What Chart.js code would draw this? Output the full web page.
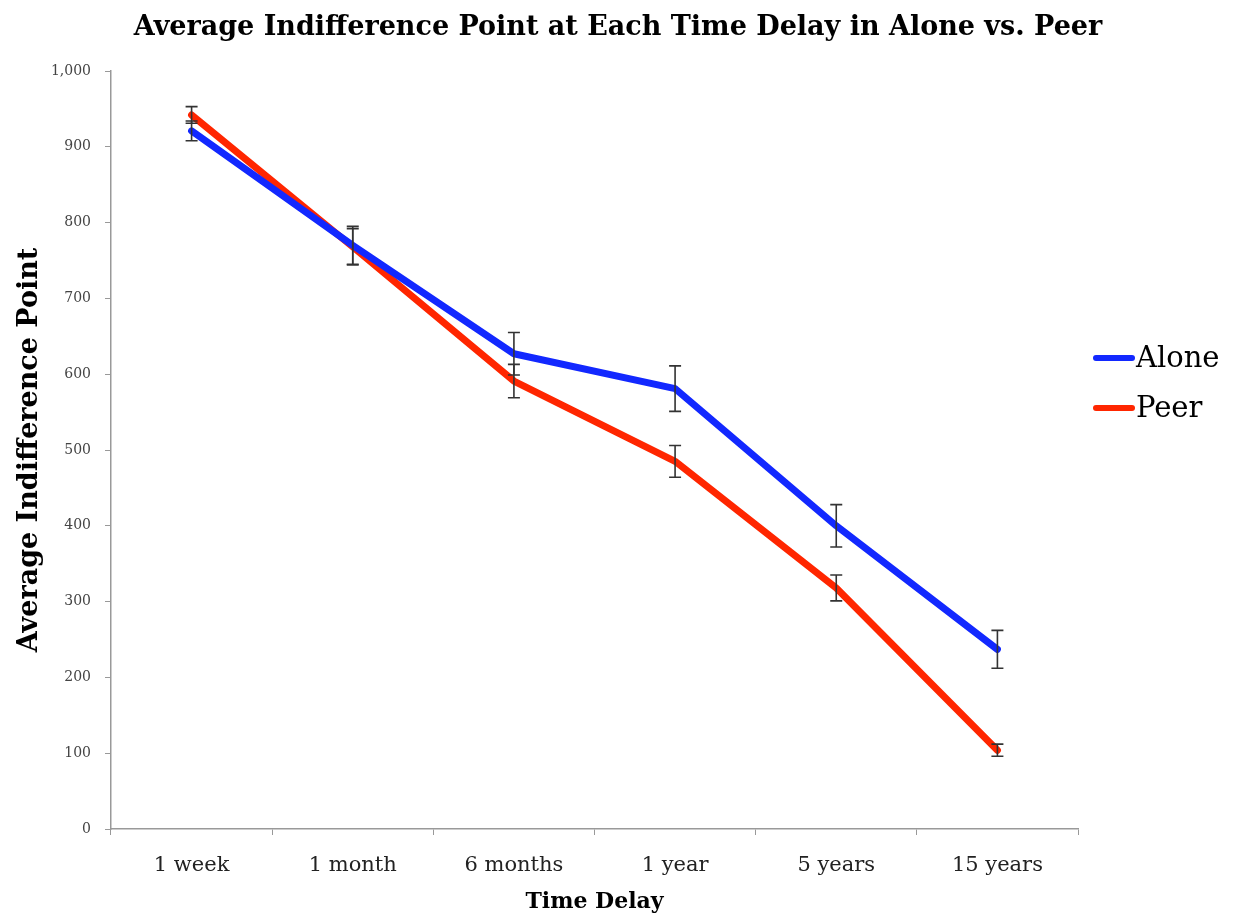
<!DOCTYPE html>
<html><head><meta charset="utf-8">
<script src="https://cdn.jsdelivr.net/npm/chart.js@4"></script>
<style>html,body{margin:0;padding:0;background:#fff}#wrap{width:1236px;height:918px}</style>
</head><body><div id="wrap"><canvas id="c" width="1236" height="918"></canvas></div>
<script>
const categories = ["1 week", "1 month", "6 months", "1 year", "5 years", "15 years"];
const aloneValues = [921, 770, 627, 581, 400, 237];
const aloneErrors = [13, 25, 28, 30, 28, 25];
const peerValues = [942, 768, 591, 485, 318, 104];
const peerErrors = [11, 24, 22, 21, 17, 8];
const yTicks = [0, 100, 200, 300, 400, 500, 600, 700, 800, 900, 1000];

const SERIF = '"DejaVu Serif", "Liberation Serif", serif';

const errorBarPlugin = {
  id: 'errorBars',
  afterDatasetsDraw(chart) {
    const ctx = chart.ctx, x = chart.scales.x, y = chart.scales.y;
    ctx.save();
    ctx.strokeStyle = '#333';
    ctx.lineWidth = 1.6;
    chart.data.datasets.forEach(ds => {
      ds.values.forEach((v, i) => {
        const e = ds.errors[i];
        const px = x.getPixelForValue(i);
        const top = y.getPixelForValue(v + e), bot = y.getPixelForValue(v - e);
        ctx.beginPath();
        ctx.moveTo(px, top); ctx.lineTo(px, bot);
        ctx.moveTo(px - 6, top); ctx.lineTo(px + 6, top);
        ctx.moveTo(px - 6, bot); ctx.lineTo(px + 6, bot);
        ctx.stroke();
      });
    });
    ctx.restore();
  }
};

const legendPlugin = {
  id: 'sideLegend',
  afterDraw(chart) {
    const ctx = chart.ctx;
    ctx.save();
    ctx.font = '29px ' + SERIF;
    ctx.textBaseline = 'middle';
    ctx.fillStyle = '#000';
    chart.data.datasets.forEach((ds, i) => {
      const yy = 358 + i * 50;
      ctx.strokeStyle = ds.borderColor;
      ctx.lineWidth = 6;
      ctx.lineCap = 'round';
      ctx.beginPath(); ctx.moveTo(1096, yy); ctx.lineTo(1132, yy); ctx.stroke();
      ctx.fillText(ds.label, 1136, yy + 1);
    });
    ctx.restore();
  }
};

new Chart(document.getElementById('c'), {
  type: 'line',
  data: {
    labels: categories,
    datasets: [
      { label: 'Alone', data: aloneValues, values: aloneValues, errors: aloneErrors,
        borderColor: 'rgb(18,40,255)', backgroundColor: 'rgb(18,40,255)', borderWidth: 7,
        pointRadius: 0, borderCapStyle: 'round', borderJoinStyle: 'round', tension: 0, yAxisID: 'y' },
      { label: 'Peer', data: peerValues, values: peerValues, errors: peerErrors,
        borderColor: 'rgb(255,38,0)', backgroundColor: 'rgb(255,38,0)', borderWidth: 7,
        pointRadius: 0, borderCapStyle: 'round', borderJoinStyle: 'round', tension: 0, yAxisID: 'y' }
    ]
  },
  options: {
    responsive: false,
    animation: false,
    layout: { padding: 0 },
    plugins: {
      legend: { display: false },
      tooltip: { enabled: false },
      title: {
        display: true,
        text: 'Average Indifference Point at Each Time Delay in Alone vs. Peer',
        color: '#000',
        font: { family: SERIF, size: 27, weight: 'bold', lineHeight: 1.2 },
        padding: { top: 12, bottom: 26.6 },
        align: 'center'
      }
    },
    scales: {
      x: {
        type: 'category',
        offset: true,
        grid: { display: true, offset: true, drawOnChartArea: false, drawTicks: true, tickLength: 6, color: '#999' },
        border: { display: true, color: '#999', width: 1.5 },
        ticks: { color: '#222', font: { family: SERIF, size: 21 }, padding: 18, maxRotation: 0 },
        title: { display: true, text: 'Time Delay', color: '#000',
          font: { family: SERIF, size: 22, weight: 'bold', lineHeight: 1.2 }, padding: { top: 0, bottom: 3 } },
        afterFit(s) { s.height = 89; }
      },
      y: {
        min: 0, max: 1000,
        afterBuildTicks(s) { s.ticks = yTicks.map(v => ({ value: v })); },
        grid: { display: true, drawOnChartArea: false, drawTicks: true, tickLength: 6, color: '#999' },
        border: { display: true, color: '#999', width: 1.5 },
        ticks: { color: '#444', font: { family: SERIF, size: 14 }, padding: 14,
          callback: v => v.toLocaleString('en-US') },
        title: { display: true, text: 'Average Indifference Point', color: '#000',
          font: { family: SERIF, size: 27, weight: 'bold', lineHeight: 1.2 }, padding: { top: 14, bottom: 0 } },
        afterFit(s) { s.width = 111; }
      },
      yr: {
        type: 'linear',
        position: 'right',
        display: true,
        grid: { display: false },
        border: { display: false },
        ticks: { display: false },
        afterFit(s) { s.width = 158; }
      }
    }
  },
  plugins: [errorBarPlugin, legendPlugin]
});
</script>
</body></html>
